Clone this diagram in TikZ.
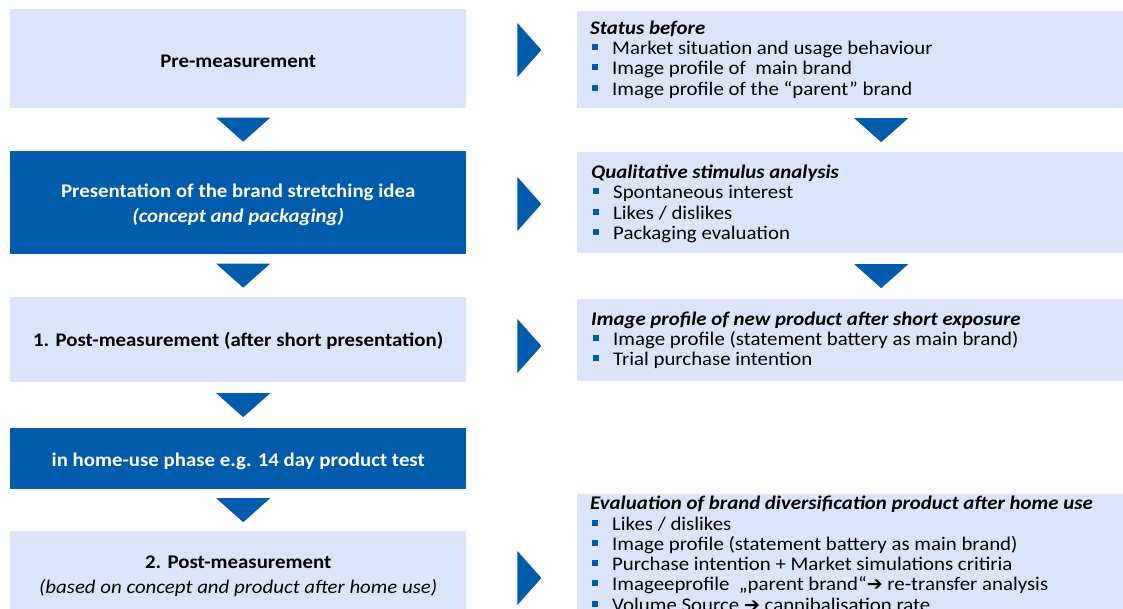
\documentclass[tikz,border=0pt]{standalone}
\usepackage{fontspec}
\setmainfont{Carlito}[FakeStretch=1.08]
\newfontfamily\arrowfont{DejaVu Sans}
\usetikzlibrary{calc}
\definecolor{paleblue}{RGB}{219,228,249}
\definecolor{deepblue}{RGB}{0,91,170}
% square blue bullet followed by the item text
\newcommand{\bul}{\makebox[22pt][l]{\hspace{2pt}\textcolor{deepblue}{\rule[4.5pt]{6pt}{6pt}}}}
\newcommand{\rarr}{{\arrowfont\bfseries\fontsize{19}{19}\selectfont ➔}}
\newcommand{\firstline}{\rule{0pt}{15pt}}
\lineskiplimit=-20pt\relax

\begin{document}
\begin{tikzpicture}[x=1pt,y=-1pt,
  stage/.style={rectangle, inner sep=0pt, anchor=north west, align=center,
    minimum width=456pt, font=\fontsize{19.3}{25}\selectfont\bfseries},
  light/.style={stage, fill=paleblue, text=black},
  dark/.style={stage, fill=deepblue, text=white},
  panel/.style={rectangle, inner sep=0pt, anchor=north west, fill=paleblue,
    minimum width=546pt},
  notes/.style={inner sep=0pt, anchor=north west, align=left,
    font=\fontsize{19.3}{20.3}\selectfont},
  tip/.style={fill=deepblue}
]
\useasboundingbox (0,0) rectangle (1123,609);
\clip (0,0) rectangle (1123,609);

% ---- process steps (left column) ----
\node[light, minimum height=99pt]  (pre)   at (10,9)   {\rule{0pt}{17pt}Pre-measurement};
\node[dark,  minimum height=103pt] (pitch) at (10,151) {\rule{0pt}{17pt}Presentation of the brand stretching idea\\
  \textit{(concept and packaging)}};
\node[light, minimum height=85pt]  (post1) at (10,297) {\rule{0pt}{17pt}1. Post-measurement (after short presentation)};
\node[dark,  minimum height=61pt]  (home)  at (10,428) {\rule{0pt}{18pt}in home-use phase e.g. 14 day product test};
\node[light, minimum height=90pt]  (post2) at (10,531) {2. Post-measurement\\
  \mdseries\textit{(based on concept and product after home use)}};

% ---- results (right column) ----
\node[panel, minimum height=97pt]  (statusP) at (577,11)  {};
\node[panel, minimum height=101pt] (qualP)   at (577,152) {};
\node[panel, minimum height=82pt]  (imageP)  at (577,299) {};
\node[panel, minimum height=130pt] (evalP)   at (577,494) {};

\node[notes] (statusT) at (590,19) {\firstline\textbf{\textit{Status before}}\\
  \bul Market situation and usage behaviour\\
  \bul Image profile of~~main brand\\
  \bul Image profile of the “parent” brand};
\node[notes] (qualT) at (591,163.5) {\firstline\textbf{\textit{Qualitative stimulus analysis}}\\
  \bul Spontaneous interest\\
  \bul Likes / dislikes\\
  \bul Packaging evaluation};
\node[notes] (imageT) at (591,310) {\firstline\textbf{\textit{Image profile of new product after short exposure}}\\
  \bul Image profile (statement battery as main brand)\\
  \bul Trial purchase intention};
\node[notes] (evalT) at (590,494.5) {\firstline\textbf{\textit{Evaluation of brand diversification product after home use}}\\
  \bul Likes / dislikes\\
  \bul Image profile (statement battery as main brand)\\
  \bul Purchase intention + Market simulations critiria\\
  \bul Imageeprofile~ „parent brand“\rarr\ re-transfer analysis\\
  \bul Volume Source \rarr\ cannibalisation rate};

% ---- downward tips between the steps ----
\foreach \a/\b in {pre/pitch, pitch/post1, post1/home, home/post2}{
  \path ($(\a.south)!0.5!(\b.north)+(5,0)$) coordinate (m);
  \fill[tip] (m) +(-27,-12) -- +(27,-12) -- +(0,12) -- cycle;
}
\foreach \a/\b in {statusP/qualP, qualP/imageP}{
  \path ($(\a.south)!0.5!(\b.north)+(31,0)$) coordinate (m);
  \fill[tip] (m) +(-27,-12) -- +(27,-12) -- +(0,12) -- cycle;
}

% ---- rightward tips from each step to its results ----
\foreach \s/\y in {pre/50, pitch/204, post1/346, post2/578}{
  \path (\s.east |- 0,\y) coordinate (m);
  \fill[tip] ($(m)+(51,-27)$) -- ($(m)+(75,0)$) -- ($(m)+(51,27)$) -- cycle;
}
\end{tikzpicture}
\end{document}
